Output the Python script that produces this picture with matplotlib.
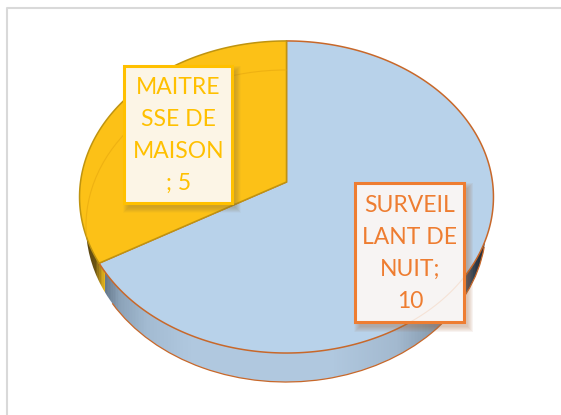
"""Faux-3D pie (Excel style): two slices on a tilted disc with boxed labels."""
import matplotlib

matplotlib.use("Agg")
import matplotlib.pyplot as plt
import numpy as np
from matplotlib.colors import LinearSegmentedColormap
from matplotlib.patches import Arc, Ellipse, Polygon, Rectangle

# --- data ---------------------------------------------------------------------
categories = ["SURVEILLANT DE NUIT", "MAITRESSE DE MAISON"]
values = [10, 5]
wrapped_labels = ["SURVEIL\nLANT DE\nNUIT;\n10", "MAITRE\nSSE DE\nMAISON\n; 5"]

# --- styling ------------------------------------------------------------------
W, H = 561, 415
FILLS = ["#b8d2ea", "#fcc117"]
EDGES = ["#c8682a", "#bf9410"]
BOX_EDGE = ["#ee7d31", "#ffc000"]
BOX_FILL = ["#f7f4f3", "#fcf5e6"]
SHADOW = ["#a8693f", "#8a7440"]
FRAME = "#d9d9d9"

APEX = (286.5, 182)
A, B, K = 206.0, 154.6, 0.096   # projective tilt of the unit disc
BASE = (286, 226, 400, 312)     # centre x, centre y, width, height of lower rim

BOXES = [(355.5, 183, 109, 139), (124.5, 66, 107.5, 137)]

plt.rcParams["font.family"] = ["Lato", "DejaVu Sans"]


def project(theta):
    """Angle on the disc (radians, math convention) to pixel coordinates."""
    u, v = np.cos(theta), np.sin(theta)
    d = 1 + K * v
    return APEX[0] + A * u / d, APEX[1] - B * v / d


def slice_polygon(start, stop):
    theta = np.linspace(start, stop, 240)
    x, y = project(theta)
    return np.column_stack([np.r_[APEX[0], x], np.r_[APEX[1], y]])


fig = plt.figure(figsize=(W / 100, H / 100), dpi=100)
ax = fig.add_axes([0, 0, 1, 1])

# chart frame, cut off by the right and bottom of the picture
ax.plot([7, 7, W + 5], [H + 5, 7.8, 7.8], color=FRAME, lw=1.5, zorder=1)

# side wall: horizontal gradient clipped to the lower rim
side_cmap = LinearSegmentedColormap.from_list("side", [
    (0.00, "#5a4612"), (0.02, "#6b5414"), (0.035, "#c49a1c"), (0.044, "#e8b81c"),
    (0.046, "#66798c"), (0.08, "#8ba2b8"), (0.15, "#a3bbd2"), (0.26, "#b0c8df"),
    (0.62, "#b0c8df"), (0.78, "#a3b9cf"), (0.88, "#8499ad"), (0.94, "#5a6c7e"),
    (0.985, "#27323e"), (1.00, "#27323e"),
])
clip_base = Ellipse(BASE[:2], BASE[2], BASE[3], facecolor="none", edgecolor="none")
ax.add_patch(clip_base)
grad = ax.imshow(np.linspace(0, 1, 400)[None, :], cmap=side_cmap, aspect="auto",
                 extent=(86, 486, 390, 200), zorder=2)
grad.set_clip_path(clip_base)
ax.add_patch(Arc(BASE[:2], BASE[2], BASE[3], theta1=6, theta2=156,
                 edgecolor=EDGES[0], lw=0.9, zorder=3))
ax.set_xlim(0, W)
ax.set_ylim(H, 0)
ax.axis("off")

# top face, clockwise from 12 o'clock
angle = np.pi / 2
for i, val in enumerate(values):
    sweep = 2 * np.pi * val / sum(values)
    wedge = Polygon(slice_polygon(angle, angle - sweep), closed=True, facecolor=FILLS[i],
                    edgecolor=EDGES[i], lw=1.1, joinstyle="miter", zorder=4 + i)
    ax.add_patch(wedge)
    angle -= sweep

# lower rim shows faintly through the translucent yellow slice
ghost = Ellipse(BASE[:2], BASE[2], BASE[3], facecolor="none", edgecolor="#e9ab10",
                lw=0.8, alpha=0.7, zorder=5.5)
ax.add_patch(ghost)
ghost.set_clip_path(wedge)

# labels with a soft drop shadow
for i, (x, y, w, h) in enumerate(BOXES):
    for grow in range(12, 0, -1):
        ax.add_patch(Rectangle((x + 5 - grow / 2, y + 6 - grow / 2), w + grow - 2, h + grow - 2,
                               facecolor=SHADOW[i], edgecolor="none", alpha=0.035, zorder=6))
    box = Rectangle((x, y), w, h, facecolor=BOX_FILL[i], edgecolor=BOX_EDGE[i],
                    lw=2.2, joinstyle="miter", zorder=7)
    ax.add_patch(box)
    ax.text(x + w / 2, y + h / 2 + 1, wrapped_labels[i], color=BOX_EDGE[i], fontsize=16.5,
            ha="center", va="center", linespacing=1.64, zorder=8)

# the disc rim is just visible through the lower label
rx, ry = project(np.linspace(-np.pi / 2, 0, 120))
rim, = ax.plot(rx, ry, color=BOX_EDGE[0], lw=0.8, alpha=0.15, zorder=7.5)
rim.set_clip_path(Rectangle(BOXES[0][:2], *BOXES[0][2:], transform=ax.transData))

fig.savefig("out.png", dpi=100, facecolor="white")
